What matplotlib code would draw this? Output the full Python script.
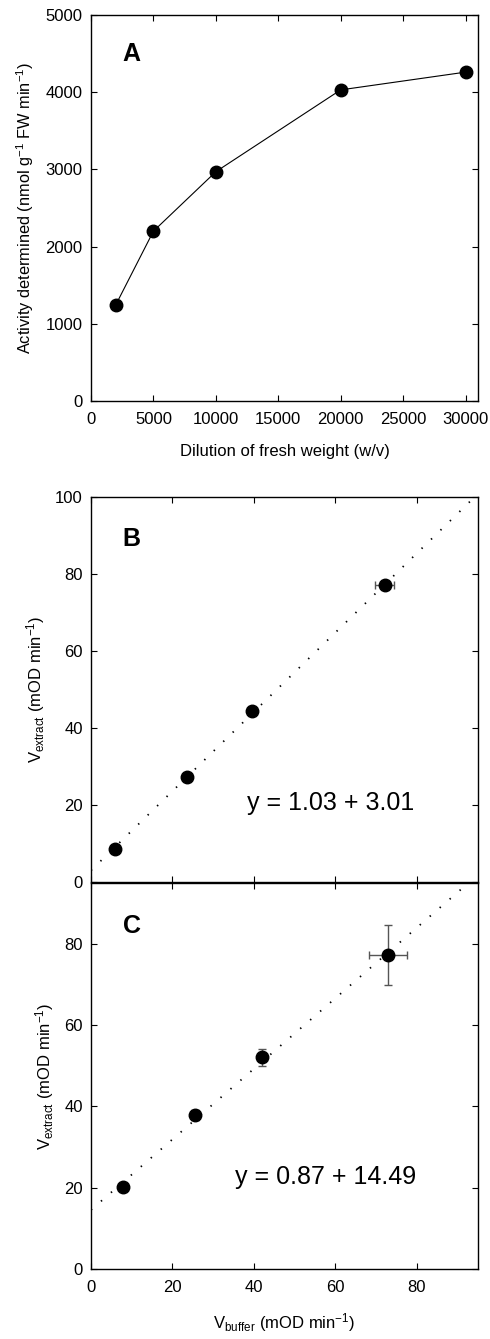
import numpy as np
import matplotlib
matplotlib.use("Agg")
import matplotlib.pyplot as plt

plt.rcParams['font.family'] = ['Liberation Sans', 'DejaVu Sans']
plt.rcParams['mathtext.default'] = 'regular'

# panel A: activity vs dilution
dilution = [2000, 5000, 10000, 20000, 30000]
activity = [1250, 2200, 2970, 4030, 4260]

# panel B
buf_b = [5.9, 23.5, 39.5, 72.1]
ext_b = [8.6, 27.2, 44.3, 77.1]
buf_b_err = [0, 0, 0, 2.4]
ext_b_err = [0, 0, 0, 0]
slope_b, icpt_b = 1.03, 3.01

# panel C
buf_c = [7.8, 25.6, 42.0, 72.9]
ext_c = [20.1, 37.9, 52.1, 77.4]
buf_c_err = [0, 0, 0, 4.7]
ext_c_err = [0, 1.2, 2.1, 7.4]
slope_c, icpt_c = 0.87, 14.49

fig = plt.figure(figsize=(4.9, 13.39), dpi=100)
axA = fig.add_axes([0.1857, 0.7005, 0.7898, 0.2883])
axB = fig.add_axes([0.1857, 0.3413, 0.7898, 0.2875])
axC = fig.add_axes([0.1857, 0.0525, 0.7898, 0.2878])

for ax in (axA, axB, axC):
    ax.tick_params(direction='in', top=True, right=True, length=4, width=0.8,
                   labelsize=12)
    ax.tick_params(axis='x', pad=8)
    ax.tick_params(axis='y', pad=6)
    for s in ax.spines.values():
        s.set_linewidth(1.0)

# A
axA.plot(dilution, activity, '-', color='black', lw=0.8, marker='o', ms=9,
         mfc='black', mec='black')
axA.set_xlim(0, 31000)
axA.set_ylim(0, 5000)
axA.set_xticks([0, 5000, 10000, 15000, 20000, 25000, 30000])
axA.set_yticks([0, 1000, 2000, 3000, 4000, 5000])
axA.set_xlabel('Dilution of fresh weight (w/v)', fontsize=12, labelpad=12)
axA.set_ylabel('Activity determined (nmol g$^{-1}$ FW min$^{-1}$)', fontsize=11.8, labelpad=7)
axA.text(0.082, 0.90, 'A', transform=axA.transAxes, fontsize=18, fontweight='bold',
         va='center', ha='left')

# B
xs = np.array([0, 95])
axB.plot(xs, slope_b * xs + icpt_b, color='black', lw=1.3, linestyle=(0, (0.8, 6.5)))
axB.errorbar(buf_b, ext_b, xerr=buf_b_err, yerr=ext_b_err, fmt='o', ms=9,
             mfc='black', mec='black', ecolor='#555555', elinewidth=1.0,
             capsize=3, capthick=1.0)
axB.set_xlim(0, 95)
axB.set_ylim(0, 100)
axB.set_xticks([0, 20, 40, 60, 80])
axB.set_xticklabels([])
axB.set_yticks([0, 20, 40, 60, 80, 100])
axB.set_ylabel('V$_{extract}$ (mOD min$^{-1}$)', fontsize=12, labelpad=6)
axB.text(0.082, 0.89, 'B', transform=axB.transAxes, fontsize=18, fontweight='bold',
         va='center', ha='left')
axB.text(0.403, 0.205, 'y = 1.03 + 3.01', transform=axB.transAxes, fontsize=18,
         va='center', ha='left')

# C
axC.plot(xs, slope_c * xs + icpt_c, color='black', lw=1.3, linestyle=(0, (0.8, 6.5)))
axC.errorbar(buf_c, ext_c, xerr=buf_c_err, yerr=ext_c_err, fmt='o', ms=9,
             mfc='black', mec='black', ecolor='#555555', elinewidth=1.0,
             capsize=3, capthick=1.0)
axC.set_xlim(0, 95)
axC.set_ylim(0, 95)
axC.set_xticks([0, 20, 40, 60, 80])
axC.set_yticks([0, 20, 40, 60, 80])
axC.set_xlabel('V$_{buffer}$ (mOD min$^{-1}$)', fontsize=12, labelpad=12)
axC.set_ylabel('V$_{extract}$ (mOD min$^{-1}$)', fontsize=12, labelpad=6)
axC.text(0.082, 0.89, 'C', transform=axC.transAxes, fontsize=18, fontweight='bold',
         va='center', ha='left')
axC.text(0.372, 0.239, 'y = 0.87 + 14.49', transform=axC.transAxes, fontsize=18,
         va='center', ha='left')

fig.savefig('out.png', dpi=100)
